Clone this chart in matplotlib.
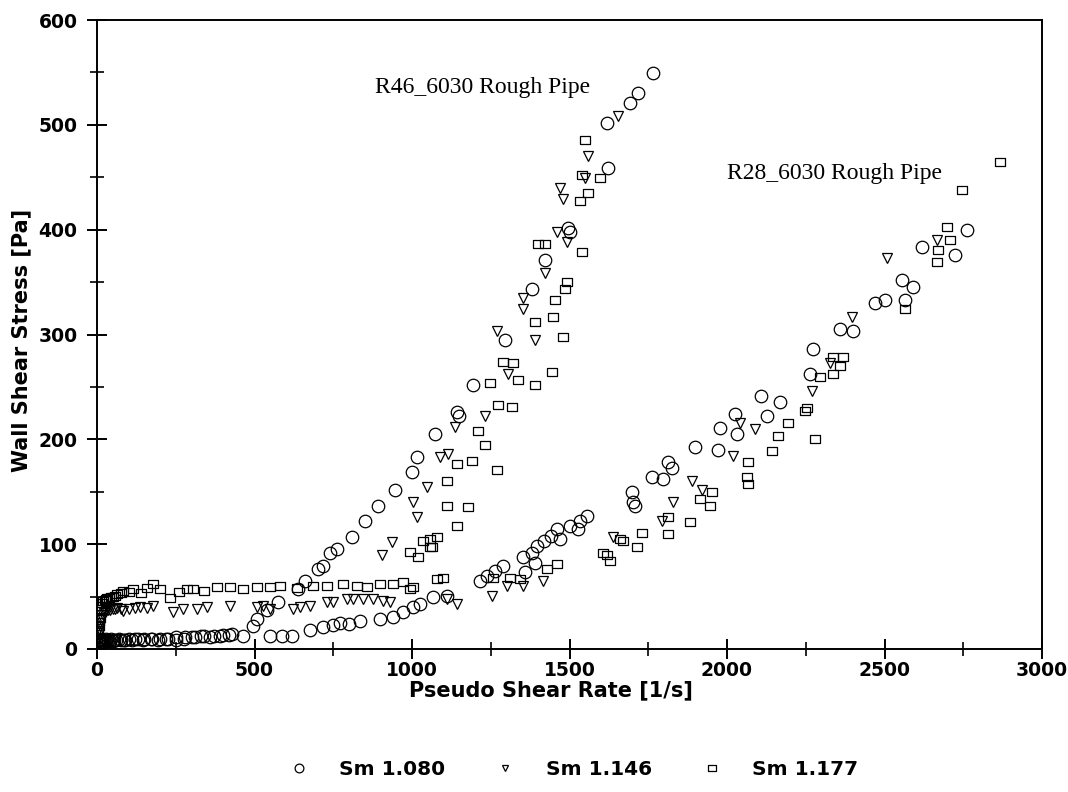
import matplotlib
matplotlib.use("Agg")
import matplotlib.pyplot as plt
from matplotlib.ticker import MultipleLocator
import numpy as np

# Sm 1.080 (circles)
r46_c_x = [2, 3, 4, 5, 6, 8, 10, 12, 15, 20, 25, 30, 40, 50, 60, 75, 90, 110, 130, 150, 175, 200,
           225, 250, 280, 310, 340, 370, 400, 430, 463, 496, 508, 540, 575, 638, 660, 702, 717,
           740, 762, 810, 851, 892, 946, 1000, 1016, 1073, 1143, 1148, 1194, 1295, 1381, 1422,
           1495, 1500, 1622, 1619, 1692, 1717, 1765]
r46_c_y = [1, 2, 2, 4, 4, 5, 6, 6, 7, 7, 8, 8, 8, 8, 9, 9, 9, 9, 10, 10, 10, 10,
           10, 11, 11, 11, 12, 12, 13, 14, 12, 22, 29, 37, 45, 57, 65, 76, 79,
           92, 95, 107, 122, 136, 152, 169, 183, 205, 226, 222, 252, 295, 343, 371,
           402, 398, 459, 502, 521, 530, 549]
r28_c_x = [6, 10, 14, 20, 28, 36, 45, 55, 70, 85, 100, 120, 145, 170, 195, 220, 250, 275, 300,
           330, 360, 390, 420, 549, 587, 619, 676, 717, 749, 771, 800, 835, 898, 940, 971, 1003,
           1025, 1067, 1111, 1216, 1238, 1263, 1289, 1352, 1359, 1381, 1390, 1397, 1420, 1440,
           1460, 1470, 1500, 1527, 1533, 1556, 1698, 1702, 1708, 1762, 1797, 1813, 1825, 1898,
           1971, 1978, 2025, 2032, 2108, 2127, 2168, 2263, 2273, 2359, 2400, 2470, 2502, 2556,
           2565, 2591, 2619, 2724, 2762]
r28_c_y = [8, 9, 10, 9, 10, 9, 10, 9, 10, 9, 10, 10, 9, 10, 9, 10, 9, 10, 11,
           12, 11, 12, 13, 12, 12, 12, 18, 21, 23, 25, 24, 27, 29, 31, 35, 40,
           43, 50, 51, 65, 70, 74, 79, 88, 73, 92, 82, 98, 103, 108,
           114, 105, 117, 114, 122, 127, 150, 140, 136, 164, 162, 178, 173, 193,
           190, 211, 224, 205, 241, 222, 236, 262, 286, 305, 303, 330, 333, 352,
           333, 345, 383, 376, 400]

# Sm 1.146 (triangles)
r46_t_x = [4, 5, 7, 8, 10, 12, 15, 18, 22, 25, 30, 35, 42, 50, 58, 65, 75, 84, 100, 120, 138,
           160, 179, 242, 274, 316, 348, 422, 507, 528, 549, 622, 644, 676, 730, 750, 794, 813,
           845, 876, 905, 937, 1003, 1016, 1048, 1089, 1114, 1137, 1232, 1270, 1305, 1352, 1352,
           1390, 1422, 1460, 1470, 1479, 1492, 1549, 1559, 1654]
r46_t_y = [10, 15, 19, 22, 25, 28, 30, 32, 34, 35, 36, 37, 37, 38, 38, 39, 38, 36, 38, 39, 40,
           39, 41, 35, 38, 38, 40, 41, 40, 41, 38, 38, 40, 41, 45, 45, 48, 48,
           48, 48, 90, 102, 140, 126, 155, 183, 186, 212, 222, 303, 262, 324, 335,
           295, 359, 398, 440, 429, 388, 449, 470, 508]
r28_t_x = [908, 930, 1111, 1143, 1254, 1302, 1352, 1416, 1638, 1794, 1829, 1889, 1921, 2019,
           2041, 2089, 2270, 2327, 2397, 2508, 2667]
r28_t_y = [46, 45, 48, 43, 51, 60, 60, 65, 107, 122, 140, 160, 152, 184,
           216, 210, 246, 273, 317, 373, 390]

# Sm 1.177 (squares)
r46_s_x = [3, 4, 5, 6, 8, 10, 13, 16, 20, 24, 28, 33, 38, 44, 50, 57, 65, 75, 84, 100, 115,
           140, 160, 179, 200, 232, 260, 285, 306, 340, 380, 422, 465, 507, 549, 581, 634, 687,
           730, 782, 824, 856, 898, 941, 973, 994, 1019, 1035, 1057, 1057, 1063, 1079, 1111,
           1111, 1143, 1143, 1178, 1190, 1210, 1232, 1248, 1270, 1273, 1289, 1317, 1321, 1337,
           1390, 1390, 1400, 1422, 1444, 1448, 1454, 1479, 1486, 1492, 1533, 1540, 1540, 1549,
           1559, 1597]
r46_s_y = [14, 18, 22, 26, 30, 36, 41, 44, 46, 47, 48, 49, 49, 50, 50, 51, 52, 53, 55, 54, 57,
           53, 58, 62, 57, 49, 54, 57, 57, 55, 59, 59, 57, 59, 59, 60, 58, 60,
           60, 62, 60, 59, 62, 62, 64, 93, 88, 103, 97, 105, 97, 107, 136,
           160, 117, 176, 135, 179, 208, 195, 254, 171, 233, 274, 231, 273, 257,
           252, 312, 386, 386, 264, 317, 333, 298, 343, 350, 427, 379, 452, 486,
           435, 449]
r28_s_x = [994, 1003, 1079, 1098, 1257, 1311, 1343, 1429, 1460, 1606, 1619, 1629, 1660, 1670,
           1714, 1730, 1813, 1813, 1883, 1914, 1946, 1952, 2063, 2067, 2067, 2143, 2162, 2194,
           2248, 2254, 2279, 2295, 2337, 2337, 2359, 2368, 2565, 2667, 2670, 2698, 2708, 2746,
           2867]
r28_s_y = [57, 59, 67, 68, 68, 68, 67, 76, 81, 92, 90, 84, 105, 103,
           97, 111, 110, 126, 121, 143, 136, 150, 164, 157, 178, 189, 203, 216,
           227, 230, 200, 259, 262, 279, 270, 279, 324, 369, 381, 403, 390, 438,
           465]

labels = ["Sm 1.080", "Sm 1.146", "Sm 1.177"]

# wide rectangle marker for the squares
rect = np.array([[-1.3, -1], [1.3, -1], [1.3, 1], [-1.3, 1], [-1.3, -1]])

fig = plt.figure(figsize=(10.68, 7.92), dpi=100)
ax = fig.add_axes([97 / 1068, 143 / 792, 945 / 1068, 629 / 792])

mk = dict(linestyle="none", markerfacecolor="none", markeredgecolor="black", markeredgewidth=0.9)
ax.plot(r46_c_x + r28_c_x, r46_c_y + r28_c_y, marker="o", markersize=9, label=labels[0], **mk)
ax.plot(r46_t_x + r28_t_x, r46_t_y + r28_t_y, marker="v", markersize=6.5, label=labels[1], **mk)
ax.plot(r46_s_x + r28_s_x, r46_s_y + r28_s_y, marker=rect, markersize=7.5, label=labels[2], **mk)

ax.text(883, 536, "R46_6030 Rough Pipe", family="Liberation Serif", fontsize=17, va="center")
ax.text(2000, 454, "R28_6030 Rough Pipe", family="Liberation Serif", fontsize=17, va="center")

ax.set_xlim(0, 3000)
ax.set_ylim(0, 600)
ax.xaxis.set_major_locator(MultipleLocator(500))
ax.xaxis.set_minor_locator(MultipleLocator(250))
ax.yaxis.set_major_locator(MultipleLocator(100))
ax.yaxis.set_minor_locator(MultipleLocator(50))
ax.tick_params(which="major", direction="inout", length=14, width=1.4, pad=2)
ax.tick_params(axis="y", which="major", pad=7)
ax.tick_params(which="minor", direction="inout", length=10, width=1.2)
for lab in ax.get_xticklabels() + ax.get_yticklabels():
    lab.set_fontweight("bold")
    lab.set_fontsize(13.5)
for sp in ax.spines.values():
    sp.set_linewidth(1.4)

ax.set_xlabel("Pseudo Shear Rate [1/s]", fontsize=15, fontweight="bold", labelpad=0, x=0.48)
ax.set_ylabel("Wall Shear Stress [Pa]", fontsize=15, fontweight="bold", labelpad=5, y=0.49)

handles, _ = ax.get_legend_handles_labels()
leg = fig.legend(handles, labels, loc="center", bbox_to_anchor=(0.537, 0.028), ncol=3,
                 frameon=False, markerscale=0.7, handlelength=1.0, handletextpad=1.5,
                 columnspacing=2.5, prop={"weight": "bold", "size": 14.5})

plt.savefig("out.png", dpi=100)
